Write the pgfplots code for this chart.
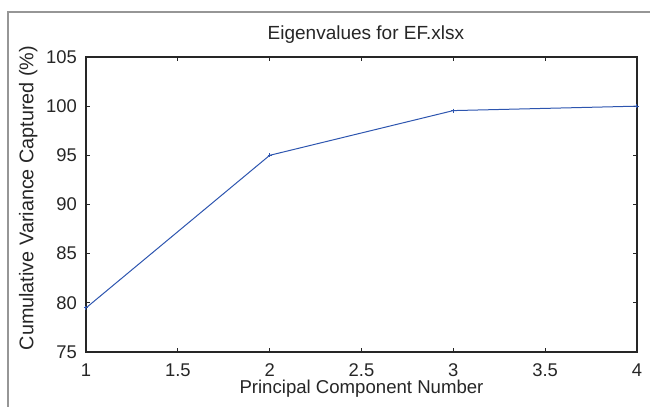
\documentclass[border=0pt]{standalone}
\usepackage{pgfplots}
\pgfplotsset{compat=1.18}
\usepackage{fontspec}
\setmainfont{Liberation Sans}
\definecolor{lineblue}{RGB}{45,85,175}
\definecolor{framegray}{RGB}{150,150,150}
\begin{document}
\begin{tikzpicture}[x=1pt,y=1pt]
\useasboundingbox (0,0) rectangle (325,203.5);
\draw[framegray, line width=0.6pt] (4,-2) -- (4,197.5) -- (330,197.5);
\begin{axis}[
  at={(43pt,27.5pt)}, anchor=origin,
  scale only axis, width=275.5pt, height=147.5pt,
  xmin=1, xmax=4, ymin=75, ymax=105,
  xtick={1,1.5,2,2.5,3,3.5,4},
  ytick={75,80,85,90,95,100,105},
  xticklabels={1,1.5,2,2.5,3,3.5,4},
  yticklabels={75,80,85,90,95,100,105},
  tick align=inside, major tick length=2pt,
  axis line style={line width=0.6pt, black!85},
  every tick/.style={black!85, line width=0.4pt},
  font=\fontsize{9.3}{10.5}\selectfont,
  ticklabel style={font=\fontsize{9.2}{10.5}\selectfont, text=black!85},
  xticklabel style={yshift=-2.3pt},
  yticklabel style={xshift=-1pt},
  every axis title shift=0pt,
  title={Eigenvalues for EF.xlsx},
  title style={at={(axis description cs:0.508,1.061)}, anchor=base, font=\fontsize{9.5}{10.5}\selectfont, text=black!85},
  xlabel={Principal Component Number},
  xlabel style={at={(axis description cs:0.5,-0.139)}, anchor=base, text=black!85},
  ylabel={Cumulative Variance Captured (\%)},
  ylabel style={at={(axis description cs:-0.105,0.522)}, anchor=center, font=\fontsize{9.9}{11}\selectfont, text=black!85},
]
\addplot[lineblue, line width=0.5pt, mark=+, mark size=1pt] coordinates {
  (1,79.48) (2,95.0) (3,99.55) (4,100.0)
};
\end{axis}
\end{tikzpicture}
\end{document}
